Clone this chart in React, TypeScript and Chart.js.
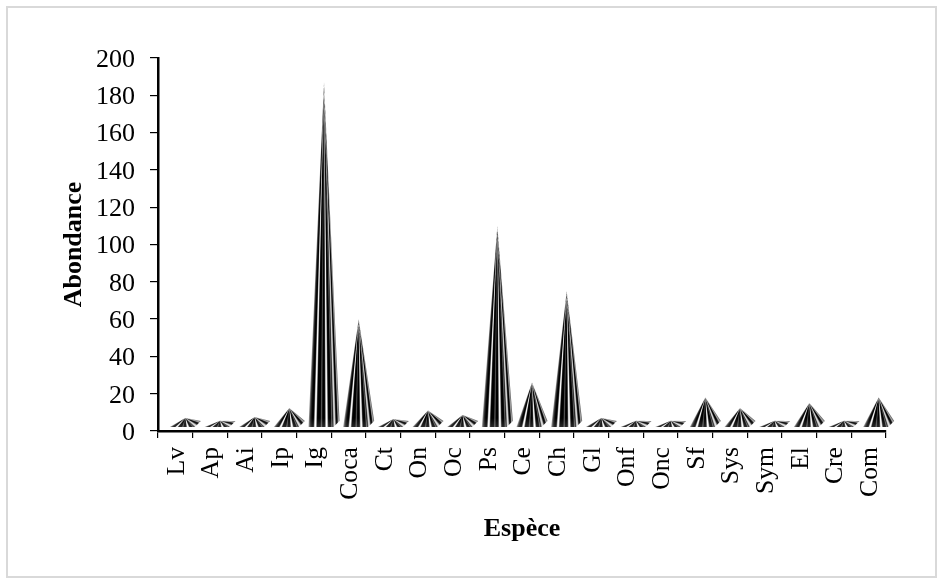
import React, { useEffect, useRef } from "react";
import { Chart, registerables } from "chart.js";

Chart.register(...registerables);

const categories = ["Lv","Ap","Ai","Ip","Ig","Coca","Ct","On","Oc","Ps","Ce","Ch","Gl","Onf","Onc","Sf","Sys","Sym","El","Cre","Com"];
const abundance = [7,5.5,7.5,12.3,187,60,6.4,11,8.6,110,26,75,7,5.5,5.5,18,12.3,5.5,15,5.5,18];
const yTicks = [0,20,40,60,80,100,120,140,160,180,200];

const FONT = "'Liberation Serif', serif";
const stripe: [number, number][] = [
  [0,170],[0.05,50],[0.11,0],[0.16,0],[0.2,255],[0.235,255],[0.275,0],[0.38,0],[0.415,110],[0.45,0],[0.52,0],[0.565,255],[0.595,255],[0.64,0],[0.72,0],[0.75,130],[0.78,0],[0.82,220],[0.85,220],[0.89,0],[0.93,0],[0.96,190],[1,70],
];

const pyramidPlugin = {
  id: "pyramids",
  beforeDraw(chart: any) {
    const { ctx } = chart;
    ctx.save();
    ctx.strokeStyle = "#d9d9d9";
    ctx.lineWidth = 2;
    ctx.strokeRect(7, 7, 929, 570);
    ctx.restore();
  },
  afterDatasetsDraw(chart: any) {
    const SS = 4;
    const off = document.createElement("canvas");
    off.width = chart.width * SS;
    off.height = chart.height * SS;
    const ctx = off.getContext("2d") as CanvasRenderingContext2D;
    ctx.scale(SS, SS);
    const base = chart.scales.y.getPixelForValue(0);
    const bars = chart.getDatasetMeta(0).data;
    bars.forEach((bar: any) => {
      const w = bar.width;
      const left = bar.x - 5.5;
      const frontY = base - 4;
      const depth = 6;
      const apexX = bar.x + 10;
      const apexY = bar.y;
      const pt = (t: number): [number, number] => {
        if (t <= 0.8) return [left + (t / 0.8) * w, frontY];
        const u = (t - 0.8) / 0.2;
        return [left + w + u * depth, frontY - u * depth];
      };
      ctx.save();
      ctx.beginPath();
      ctx.moveTo(apexX, apexY);
      ctx.lineTo(left, frontY);
      ctx.lineTo(left + w, frontY);
      ctx.lineTo(left + w + depth, frontY - depth);
      ctx.closePath();
      ctx.clip();
      const step = 1 / SS;
      const yStart = Math.floor(apexY * SS) / SS;
      const yEnd = Math.ceil(frontY * SS) / SS;
      for (let y = yStart; y < yEnd; y += step) {
        const xAt = (t: number) => {
          const p = pt(t);
          const f = Math.max(0, Math.min(1, (y + step / 2 - apexY) / (p[1] - apexY)));
          return apexX + f * (p[0] - apexX);
        };
        const x0 = xAt(0);
        const x1 = xAt(1);
        const span = Math.max(x1 - x0, 0.01);
        const g = ctx.createLinearGradient(x0, 0, x0 + span, 0);
        stripe.forEach(([t, v]) => {
          const o = (xAt(t) - x0) / span;
          g.addColorStop(Math.max(0, Math.min(1, o)), `rgb(${v},${v},${v})`);
        });
        ctx.fillStyle = g;
        ctx.fillRect(Math.floor(x0) - 2, y, span + 4, step);
      }
      const glow = ctx.createLinearGradient(0, frontY - 9, 0, frontY);
      glow.addColorStop(0, "rgba(255,255,255,0)");
      glow.addColorStop(1, "rgba(255,255,255,0.16)");
      ctx.fillStyle = glow;
      ctx.fillRect(left - 1, frontY - 9, w + depth + 2, 9);
      const fadeH = (frontY - apexY) * 0.22;
      const fade = ctx.createLinearGradient(0, apexY, 0, apexY + fadeH);
      fade.addColorStop(0, "rgba(255,255,255,0.45)");
      fade.addColorStop(1, "rgba(255,255,255,0)");
      ctx.fillStyle = fade;
      ctx.fillRect(left - 1, apexY, w + depth + 2, fadeH);
      ctx.restore();
    });
    const c = chart.ctx;
    c.save();
    c.imageSmoothingEnabled = true;
    c.imageSmoothingQuality = "high";
    c.filter = "blur(0.35px)";
    c.drawImage(off, 0, 0, chart.width, chart.height);
    c.restore();
  },
};

export default function App() {
  const ref = useRef<HTMLCanvasElement>(null);
  useEffect(() => {
    const chart = new Chart(ref.current as HTMLCanvasElement, {
      type: "bar",
      data: {
        labels: categories,
        datasets: [{
          label: "Abondance",
          data: abundance,
          backgroundColor: "transparent",
          borderWidth: 0,
          categoryPercentage: 1,
          barPercentage: 25 / 34.67,
        }],
      },
      options: {
        responsive: false,
        animation: false,
        layout: { padding: { left: 0, top: 58, right: 57, bottom: 0 } },
        plugins: { legend: { display: false }, tooltip: { enabled: false } },
        scales: {
          x: {
            afterFit: (s: any) => { s.height = 148; },
            border: { color: "#000", width: 2.5 },
            grid: { drawOnChartArea: false, drawTicks: true, tickLength: 7, color: "#000", tickColor: "#000", lineWidth: 1.2 },
            ticks: { color: "#000", font: { family: FONT, size: 25.7 }, minRotation: 90, maxRotation: 90, padding: 9, labelOffset: 1.5, autoSkip: false },
            title: { display: true, text: "Espèce", color: "#000", font: { family: FONT, size: 26, weight: "bold" }, padding: { top: 0, bottom: 34 } },
          },
          y: {
            min: 0,
            max: 200,
            afterFit: (s: any) => { s.width = 158; },
            afterBuildTicks: (s: any) => { s.ticks = yTicks.map((value) => ({ value })); },
            border: { color: "#000", width: 2.5 },
            grid: { drawOnChartArea: false, drawTicks: true, tickLength: 8, color: "#000", tickColor: "#000", lineWidth: 1.2 },
            ticks: { color: "#000", font: { family: FONT, size: 26 }, padding: 15, labelOffset: 2 },
            title: { display: true, text: "Abondance", color: "#000", font: { family: FONT, size: 26, weight: "bold" }, padding: { top: 59, bottom: 0 } },
          },
        },
      },
      plugins: [pyramidPlugin],
    } as any);
    return () => chart.destroy();
  }, []);
  return (
    <div style={{ position: "absolute", left: 0, top: 0, width: 943, height: 579, background: "#fff" }}>
      <canvas ref={ref} width={943} height={579} style={{ display: "block" }} />
    </div>
  );
}
